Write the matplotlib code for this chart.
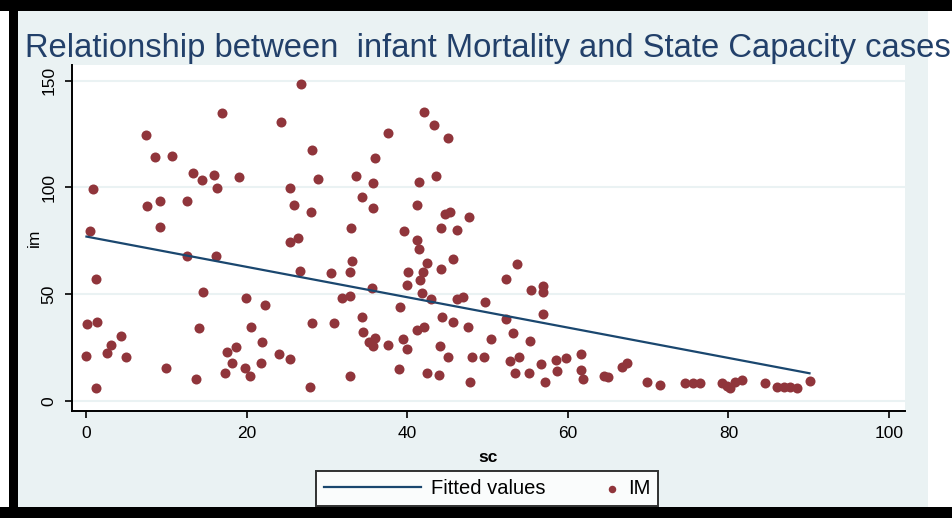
import matplotlib
matplotlib.use("Agg")
import matplotlib.pyplot as plt
from matplotlib.patches import Rectangle
from matplotlib.legend_handler import HandlerPathCollection
import numpy as np

# state capacity (sc) and infant mortality (im)
sc = [16.9, 24.2, 7.4, 8.6, 10.7, 13.3, 14.4, 15.9, 16.3, 19.0, 0.8, 7.5, 9.2, 12.5, 9.2,
      0.4, 12.5, 16.2, 1.2, 14.5, 19.9, 22.2, 0.1, 1.3, 14.0, 20.5, 4.3, 3.1, 2.6, 0.0,
      4.9, 21.9, 18.6, 17.5, 18.1, 24.0, 21.7, 19.8, 20.4, 17.3, 9.9, 13.7, 1.2,
      26.7, 42.1, 43.3, 45.1, 37.6, 28.1, 36.0, 28.9, 33.6, 35.7, 41.5, 43.5, 25.4, 25.9,
      28.0, 34.3, 35.7, 41.2, 33.0, 44.7, 45.3, 47.7, 44.2, 46.2, 39.6, 41.2, 41.4, 25.4,
      26.4, 45.7, 42.4, 33.1, 32.9, 42.0, 40.1, 44.2, 41.6, 39.9, 26.6, 30.5, 35.6, 41.8,
      42.9, 46.2, 46.9, 31.8, 32.9, 39.1, 49.7, 34.3, 44.3, 45.7, 28.1, 30.8, 47.6, 34.5,
      41.2, 42.1, 36.0, 35.2, 39.4, 39.9, 37.6, 44.1, 45.1, 48.1, 49.6, 25.4, 38.9, 42.4,
      43.9, 32.8, 47.8, 27.9, 35.7,
      53.7, 52.3, 55.4, 56.9, 56.9, 56.9, 52.3, 53.2, 50.4, 55.3, 52.8, 53.9, 53.4, 55.1,
      56.7, 57.2, 58.5, 58.6, 59.8, 61.6, 61.6, 61.9, 65.0, 64.5, 66.7, 67.3, 69.9, 71.5,
      74.6, 75.6, 76.5,
      79.2, 80.2, 80.8, 81.7, 79.8, 84.6, 86.0, 86.9, 87.7, 88.6, 90.1]
im = [135.0, 130.5, 124.6, 114.4, 114.9, 106.9, 103.5, 105.7, 99.6, 104.7, 99.2, 91.3, 93.8, 93.8, 81.6,
      79.7, 67.8, 67.8, 57.1, 50.8, 48.3, 44.9, 36.0, 37.0, 34.2, 34.7, 30.3, 26.1, 22.5, 21.0,
      20.6, 27.7, 25.3, 23.0, 17.5, 21.9, 17.8, 15.2, 11.7, 12.8, 15.5, 10.2, 6.1,
      148.5, 135.5, 129.3, 123.0, 125.4, 117.5, 113.6, 103.9, 105.3, 101.9, 102.7, 105.3, 99.6, 91.7,
      88.3, 95.4, 90.5, 91.7, 81.1, 87.5, 88.6, 86.0, 80.8, 80.0, 79.6, 75.3, 71.0, 74.5,
      76.1, 66.4, 64.4, 65.6, 60.5, 60.5, 60.5, 61.6, 56.6, 54.2, 60.8, 60.0, 52.7, 50.6,
      47.7, 47.5, 48.8, 48.3, 49.1, 43.8, 46.4, 39.4, 39.4, 36.8, 36.6, 36.6, 34.7, 32.3,
      33.1, 34.4, 29.5, 27.7, 28.8, 24.1, 26.1, 25.6, 20.3, 20.3, 20.3, 19.5, 14.7, 12.8,
      12.0, 11.7, 8.9, 6.6, 25.6,
      64.1, 57.1, 51.9, 53.8, 51.1, 40.6, 38.3, 31.6, 28.8, 28.1, 18.8, 20.6, 12.8, 12.8,
      17.2, 8.9, 19.1, 14.1, 19.9, 21.9, 14.4, 10.0, 11.0, 11.6, 15.9, 17.8, 8.9, 7.4,
      8.1, 8.1, 8.5,
      8.1, 5.8, 8.9, 9.7, 6.9, 8.4, 6.3, 6.3, 6.3, 5.8, 9.4]

xticks = [0, 20, 40, 60, 80, 100]
yticks = [0, 50, 100, 150]

W, H = 953, 518
navy = '#1a476f'
maroon = '#90353b'
bg = '#eaf2f3'
font = 'Liberation Sans'


class MarkerRight(HandlerPathCollection):
    # put the legend marker at the right end of its handle box
    def get_xdata(self, legend, xdescent, ydescent, width, height, fontsize):
        xd = [-xdescent + width - 0.3 * fontsize]
        return xd, xd


fig = plt.figure(figsize=(W / 100, H / 100), dpi=100)
fig.patch.set_facecolor('white')

def box(x0, y0, x1, y1, color):
    # pixel box (top-left origin) -> figure fraction rectangle
    fig.add_artist(Rectangle((x0 / W, 1 - y1 / H), (x1 - x0) / W, (y1 - y0) / H,
                             transform=fig.transFigure, facecolor=color,
                             edgecolor='none', zorder=-10))

box(18, 11, 928, 507, bg)
box(0, 0, W, 11, 'black')
box(9, 0, 18, H, 'black')
box(0, 507, W, H, 'black')

ax = fig.add_axes([72 / W, 1 - 411 / H, (905 - 72) / W, (411 - 65) / H])
ax.set_facecolor('white')

x = np.array(sc)
y = np.array(im)
b, a = np.polyfit(x, y, 1)
xf = np.array([x.min(), x.max()])
ax.plot(xf, a + b * xf, color=navy, lw=1.6, label='Fitted values', zorder=3)
pts = ax.scatter(x, y, s=52, color=maroon, linewidths=0, label='IM', zorder=2)

ax.set_xlim(-1.8, 102)
ax.set_ylim(-4.8, 157.4)
ax.set_xticks(xticks)
ax.set_yticks(yticks)
ax.grid(axis='y', color=bg, lw=1.5)
ax.set_axisbelow(True)
for s in ['top', 'right']:
    ax.spines[s].set_visible(False)
for s in ['left', 'bottom']:
    ax.spines[s].set_linewidth(1.4)
ax.tick_params(direction='out', length=5, width=1.2, labelsize=12.5, pad=6)
for t in ax.get_xticklabels():
    t.set_fontfamily(font)
for t in ax.get_yticklabels():
    t.set_fontfamily(font)
    t.set_rotation(90)
    t.set_va('center')

ax.set_xlabel('sc', fontsize=12.5, family=font, fontweight='bold', labelpad=6)
ax.set_ylabel('im', fontsize=12.5, family=font, labelpad=0)

fig.text(25 / W, 1 - 57 / H, 'Relationship between  infant Mortality and State Capacity cases',
         fontsize=23.6, family=font, color='#22406a', va='baseline', ha='left')

leg = ax.legend(loc='center', bbox_to_anchor=(487 / W, 1 - 488.5 / H),
                bbox_transform=fig.transFigure, ncol=2, frameon=True, fancybox=False,
                edgecolor='black', prop={'family': font, 'size': 14.5},
                handlelength=4.8, handletextpad=0.5, columnspacing=-1.2,
                markerscale=0.75, borderpad=0.38, borderaxespad=0,
                handler_map={pts: MarkerRight()})
leg.get_frame().set_linewidth(1.4)

fig.savefig('out.png', dpi=100)
